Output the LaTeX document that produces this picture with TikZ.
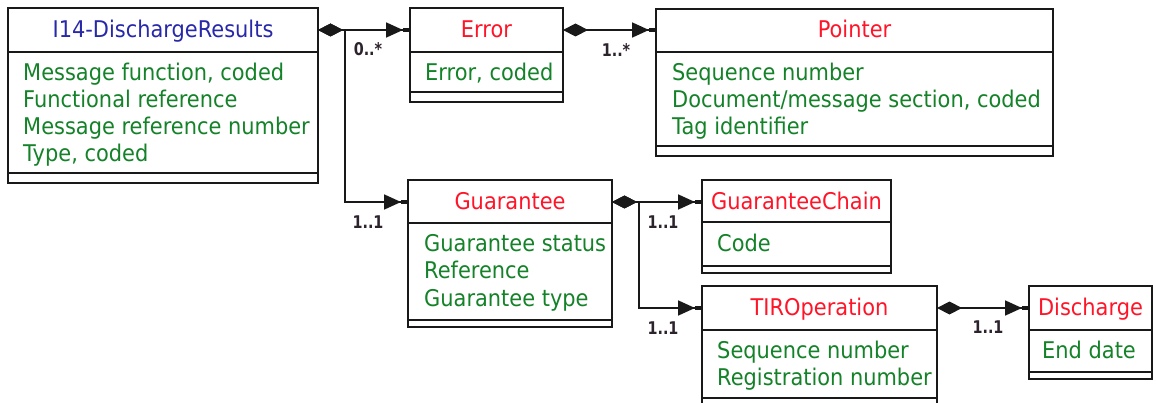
\documentclass[tikz,border=0pt]{standalone}
\usepackage{fontspec}
\setmainfont{DejaVu Sans}[FakeStretch=0.91]
\newfontfamily\lblfamily{DejaVu Sans}[FakeStretch=0.82]
\usetikzlibrary{arrows.meta}
\definecolor{ttlblue}{RGB}{40,40,170}
\definecolor{ttlred}{RGB}{255,20,40}
\definecolor{attgreen}{RGB}{20,130,40}
\definecolor{lblc}{RGB}{45,35,45}
\definecolor{linec}{RGB}{25,25,25}
\begin{document}
\begin{tikzpicture}[x=1pt,y=-1pt,
  box/.style={draw=linec, line width=1.8pt, fill=white, inner sep=0pt, outer sep=0pt, anchor=north west},
  cline/.style={draw=linec, line width=1.8pt},
  ttl/.style={anchor=base, inner sep=0pt, text=ttlred, font=\fontsize{23}{27}\selectfont},
  att/.style={anchor=base west, inner sep=0pt, text=attgreen, font=\fontsize{23}{27}\selectfont},
  mult/.style={inner sep=0pt, text=lblc, font=\lblfamily\bfseries\fontsize{17.5}{19}\selectfont},
  comp/.style={draw=linec, line width=1.8pt,
    {Diamond[length=25pt,width=13pt,sep=0pt]}-{Triangle[length=17pt,width=15pt,sep=0pt]Rectangle[length=7pt,width=4pt,sep=0pt]}}
]
\useasboundingbox (0,0) rectangle (1156,403);
\fill[white] (0,0) rectangle (1156,403);
\clip (0,0) rectangle (1156,403);

% boxes
\node[box, minimum width=310pt, minimum height=175pt] (b1) at (8,8) {};
\node[box, minimum width=153pt, minimum height=94pt] (err) at (410,8) {};
\node[box, minimum width=397pt, minimum height=147pt] (po) at (656,9) {};
\node[box, minimum width=204pt, minimum height=147pt] (gu) at (408,180) {};
\node[box, minimum width=189pt, minimum height=93pt] (gc) at (702,180) {};
\node[box, minimum width=235pt, minimum height=140pt] (tir) at (702,286) {};
\node[box, minimum width=123pt, minimum height=93pt] (dis) at (1029,286) {};

% compartment lines
\draw[cline] (8,52) -- (318,52);  \draw[cline] (8,173) -- (318,173);
\draw[cline] (410,52) -- (563,52); \draw[cline] (410,92) -- (563,92);
\draw[cline] (656,52) -- (1053,52); \draw[cline] (656,146) -- (1053,146);
\draw[cline] (408,223) -- (612,223); \draw[cline] (408,320) -- (612,320);
\draw[cline] (702,222) -- (891,222); \draw[cline] (702,266) -- (891,266);
\draw[cline] (702,330) -- (937,330); \draw[cline] (702,398) -- (937,398);
\draw[cline] (1029,330) -- (1152,330); \draw[cline] (1029,372) -- (1152,372);

% titles
\node[ttl, text=ttlblue] (b1t) at (163,38) {I14-DischargeResults};
\node[ttl] (errt) at (486.5,38) {Error};
\node[ttl] (pot) at (854.5,38) {Pointer};
\node[ttl] (gut) at (510,210) {Guarantee};
\node[ttl] (gct) at (796.5,210) {GuaranteeChain};
\node[ttl] (tirt) at (819.5,315) {TIROperation};
\node[ttl] (dist) at (1090.5,315) {Discharge};

% attributes
\node[att] (b1a) at (23,81) {Message function, coded};
\node[att] (b1b) at (23,108) {Functional reference};
\node[att] (b1c) at (23,135) {Message reference number};
\node[att] (b1d) at (23,162) {Type, coded};
\node[att] (erra) at (425,81) {Error, coded};
\node[att] (poa) at (672,81) {Sequence number};
\node[att] (pob) at (672,108) {Document/message section, coded};
\node[att] (poc) at (672,135) {Tag identifier};
\node[att] (gua) at (424,252) {Guarantee status};
\node[att] (gub) at (424,279) {Reference};
\node[att] (guc) at (424,306) {Guarantee type};
\node[att] (gca) at (717,252) {Code};
\node[att] (tira) at (717,358) {Sequence number};
\node[att] (tirb) at (717,385) {Registration number};
\node[att] (disa) at (1042,358) {End date};

% routing coordinates
\coordinate (r1) at (0,30);
\coordinate (r2) at (0,202);
\coordinate (r3) at (0,308);
\coordinate (j1) at (345,0);
\coordinate (j2) at (639,0);

% connectors
\draw[comp] (b1.east |- r1) -- (err.west |- r1);
\draw[comp] (b1.east |- r1) -- (j1 |- r1) |- (gu.west |- r2);
\draw[comp] (err.east |- r1) -- (po.west |- r1);
\draw[comp] (gu.east |- r2) -- (gc.west |- r2);
\draw[comp] (gu.east |- r2) -- (j2 |- r2) |- (tir.west |- r3);
\draw[comp] (tir.east |- r3) -- (dis.west |- r3);

% multiplicities
\node[mult] (m1) at (368,49) {0..*};
\node[mult] (m2) at (616,50) {1..*};
\node[mult] (m3) at (368,222) {1..1};
\node[mult] (m4) at (663,222) {1..1};
\node[mult] (m5) at (663,328) {1..1};
\node[mult] (m6) at (988,327) {1..1};
\end{tikzpicture}
\end{document}
